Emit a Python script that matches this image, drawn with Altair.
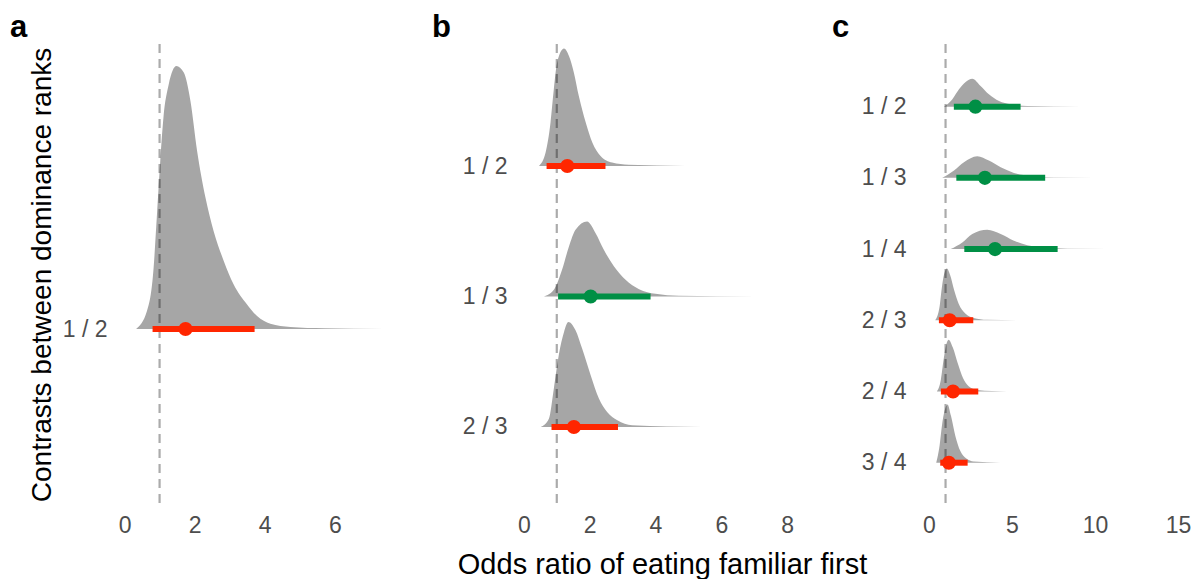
import json
import altair as alt
import pandas as pd

FONT = "Liberation Sans"
RED = "#FF2600"
GREEN = "#008F45"
FILL = "#A6A6A6"

# ---------------- Panel a ----------------
A_LABELS = ["1 / 2"]
A_MED = [1.74]
A_LO = [0.80]
A_HI = [3.71]
A_PEAK = [1.0]
A_X_12 = [0.33, 0.64, 0.83, 0.92, 1.02, 1.11, 1.26, 1.48, 1.69, 1.88, 2.07, 2.31, 2.54, 2.83, 3.11, 3.49, 3.78, 4.16, 4.73, 5.69, 7.4]
A_H_12 = [0, 0.068, 0.233, 0.423, 0.639, 0.803, 0.93, 1.0, 0.975, 0.867, 0.677, 0.499, 0.373, 0.259, 0.17, 0.094, 0.049, 0.02, 0.008, 0.003, 0]

# ---------------- Panel b ----------------
B_LABELS = ["1 / 2", "1 / 3", "2 / 3"]
B_MED = [1.32, 2.03, 1.52]
B_LO = [0.69, 1.04, 0.84]
B_HI = [2.48, 3.85, 2.86]
B_PEAK = [0.9, 0.575, 0.805]
B_X_12 = [0.46, 0.66, 0.81, 0.91, 1.01, 1.22, 1.37, 1.52, 1.67, 1.88, 2.08, 2.33, 2.68, 3.19, 4.9]
B_H_12 = [0, 0.114, 0.37, 0.653, 0.88, 1.0, 0.937, 0.795, 0.596, 0.37, 0.2, 0.085, 0.029, 0.01, 0]
B_X_13 = [0.61, 0.91, 1.16, 1.37, 1.57, 1.92, 2.18, 2.43, 2.74, 3.09, 3.5, 4.0, 4.71, 7.04]
B_H_13 = [0, 0.089, 0.356, 0.667, 0.889, 1.0, 0.844, 0.622, 0.4, 0.222, 0.098, 0.036, 0.01, 0]
B_X_23 = [0.51, 0.76, 0.91, 1.06, 1.22, 1.35, 1.57, 1.77, 2.03, 2.28, 2.53, 2.84, 3.29, 5.4]
B_H_23 = [0, 0.079, 0.365, 0.683, 0.905, 1.0, 0.921, 0.746, 0.492, 0.27, 0.143, 0.063, 0.016, 0]

# ---------------- Panel c ----------------
C_LABELS = ["1 / 2", "1 / 3", "1 / 4", "2 / 3", "2 / 4", "3 / 4"]
C_MED = [2.8, 3.37, 3.98, 1.25, 1.45, 1.2]
C_LO = [1.5, 1.65, 2.13, 0.6, 0.72, 0.68]
C_HI = [5.52, 7.0, 7.75, 2.67, 2.97, 2.33]
C_PEAK = [0.393, 0.303, 0.271, 0.726, 0.726, 0.819]
C_X_12 = [0.9, 1.4, 1.81, 2.21, 2.61, 3.11, 3.61, 4.22, 4.92, 5.92, 9.14]
C_H_12 = [0, 0.26, 0.62, 0.88, 1.0, 0.74, 0.44, 0.2, 0.085, 0.02, 0]
C_X_13 = [0.8, 1.51, 2.11, 2.91, 3.61, 4.32, 5.12, 6.13, 7.53, 12.35]
C_H_13 = [0, 0.34, 0.72, 1.0, 0.8, 0.49, 0.23, 0.08, 0.02, 0]
C_X_14 = [1.31, 2.01, 2.61, 3.51, 4.32, 5.12, 5.92, 6.93, 8.33, 13.15]
C_H_14 = [0, 0.34, 0.78, 1.0, 0.78, 0.43, 0.2, 0.08, 0.02, 0]
C_X_23 = [0.38, 0.64, 0.78, 0.92, 1.08, 1.28, 1.52, 1.79, 2.19, 2.69, 3.49, 5.3]
C_H_23 = [0, 0.26, 0.64, 0.9, 1.0, 0.87, 0.58, 0.32, 0.13, 0.045, 0.01, 0]
C_X_24 = [0.48, 0.72, 0.88, 1.04, 1.18, 1.45, 1.73, 2.05, 2.39, 2.89, 4.7]
C_H_24 = [0, 0.23, 0.61, 0.9, 1.0, 0.84, 0.55, 0.26, 0.1, 0.03, 0]
C_X_34 = [0.44, 0.64, 0.78, 0.94, 1.12, 1.33, 1.59, 1.89, 2.25, 2.69, 4.3]
C_H_34 = [0, 0.29, 0.63, 0.89, 1.0, 0.8, 0.46, 0.2, 0.07, 0.02, 0]

A_TICKS = [0, 2, 4, 6]
B_TICKS = [0, 2, 4, 6, 8]
C_TICKS = [0, 5, 10, 15]
REF = [1.0]

Y_TITLE = "Contrasts between dominance ranks"
X_TITLE = "Odds ratio of eating familiar first"

color_scale = alt.Scale(domain=["includes 1", "excludes 1"], range=[RED, GREEN])


def make_panel(labels, dens_x, dens_h, peak, med, lo, hi, xdom, ydom, width,
               ticks, letter, letter_dx, ytitle=None, xtitle=None, xtitle_x=None):
    n = len(labels)
    rows = list(range(n, 0, -1))
    recs = []
    for lab, r, xs, hs, pk in zip(labels, rows, dens_x, dens_h, peak):
        for x, h in zip(xs, hs):
            recs.append({"label": lab, "row": r, "x": x, "top": r + h * pk, "base": r})
    dens = pd.DataFrame(recs)
    iv = pd.DataFrame({"label": labels, "row": rows, "med": med, "lo": lo, "hi": hi})
    iv["ci"] = ["excludes 1" if v > 1 else "includes 1" for v in lo]

    xscale = alt.Scale(domain=xdom, nice=False, zero=False)
    yscale = alt.Scale(domain=ydom, nice=False, zero=False)
    label_arr = [""] + labels[::-1]

    xaxis_kw = dict(values=ticks, labelPadding=9, labelFontSize=23,
                    labelColor="#4D4D4D", format="d")
    if xtitle:
        xaxis_kw.update(titlePadding=13, titleX=xtitle_x, titleFontSize=29)
    yaxis_kw = dict(values=rows, labelExpr=f"{json.dumps(label_arr)}[datum.value]",
                    labelPadding=7, labelFontSize=23, labelColor="#4D4D4D")
    if ytitle:
        yaxis_kw.update(titlePadding=6, titleFontSize=28)
    xaxis = alt.Axis(**xaxis_kw)
    yaxis = alt.Axis(**yaxis_kw)
    xt = xtitle if xtitle else None
    yt = ytitle if ytitle else None

    area = alt.Chart(dens).mark_area(color=FILL, interpolate="monotone").encode(
        x=alt.X("x:Q", scale=xscale, axis=xaxis, title=xt),
        y=alt.Y("top:Q", scale=yscale, axis=yaxis, title=yt),
        y2="base:Q",
        detail="label:N",
    )
    vline = alt.Chart(pd.DataFrame({"ref": REF})).mark_rule(
        color="black", opacity=0.33, strokeWidth=2.2, strokeDash=[9, 6]
    ).encode(x=alt.X("ref:Q", scale=xscale, axis=xaxis, title=xt))
    bar = alt.Chart(iv).mark_rule(strokeWidth=6, strokeCap="butt").encode(
        x=alt.X("lo:Q", scale=xscale, axis=xaxis, title=xt),
        x2="hi:Q",
        y=alt.Y("row:Q", scale=yscale, axis=yaxis, title=yt),
        color=alt.Color("ci:N", scale=color_scale, legend=None),
    )
    pt = alt.Chart(iv).mark_circle(size=200, opacity=1).encode(
        x=alt.X("med:Q", scale=xscale, axis=xaxis, title=xt),
        y=alt.Y("row:Q", scale=yscale, axis=yaxis, title=yt),
        color=alt.Color("ci:N", scale=color_scale, legend=None),
    )
    return alt.layer(area, vline, bar, pt).properties(
        width=width, height=461,
        title=alt.TitleParams(text=letter, anchor="start", frame="group", dx=letter_dx,
                              fontSize=31, fontWeight="bold", font=FONT,
                              color="black", offset=-1),
    )


pa = make_panel(A_LABELS, [A_X_12], [A_H_12], A_PEAK, A_MED, A_LO, A_HI,
                [-0.3, 7.8], [0.3308, 2.0837], 284, A_TICKS, "a", -104, ytitle=Y_TITLE)
pb = make_panel(B_LABELS, [B_X_12, B_X_13, B_X_23], [B_H_12, B_H_13, B_H_23], B_PEAK,
                B_MED, B_LO, B_HI, [-0.3, 8.3], [0.402, 3.935], 283, B_TICKS, "b", -82,
                xtitle=X_TITLE, xtitle_x=148)
pc = make_panel(C_LABELS, [C_X_12, C_X_13, C_X_14, C_X_23, C_X_24, C_X_34],
                [C_H_12, C_H_13, C_H_14, C_H_23, C_H_24, C_H_34], C_PEAK,
                C_MED, C_LO, C_HI, [-0.96, 15.3], [0.406, 6.88], 270, C_TICKS, "c", -81)

chart = alt.hconcat(pa, pb, pc, spacing=116, bounds="flush").resolve_scale(
    x="independent", y="independent"
).properties(
    padding={"left": 2, "top": 3, "right": 0, "bottom": 0}
).configure_view(strokeWidth=0).configure_axis(
    grid=False, domain=False, ticks=False, labelFont=FONT, titleFont=FONT,
    titleFontWeight="normal", titleColor="black",
)

chart.save("out.html", embed_options={"renderer": "svg", "actions": False})
